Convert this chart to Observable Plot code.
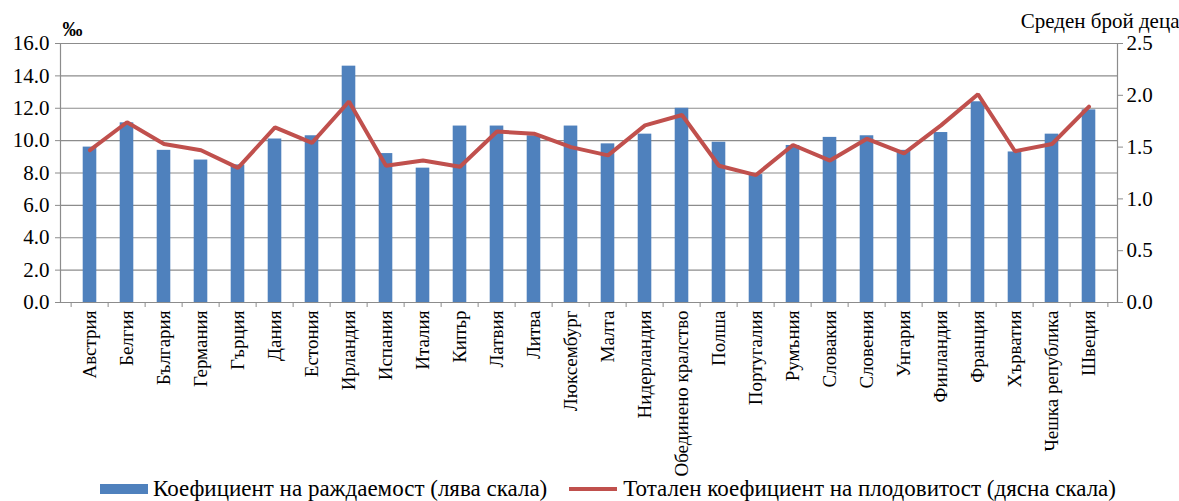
<!DOCTYPE html>
<html>
<head>
<meta charset="utf-8">
<script src="https://cdn.jsdelivr.net/npm/d3@7"></script>
<script src="https://cdn.jsdelivr.net/npm/@observablehq/plot@0.6"></script>
<style>
  body { margin: 0; background: #fff; font-family: "Liberation Serif", "Times New Roman", serif; }
  #wrap { width: 1179px; }
  #wrap svg text { font-family: "Liberation Serif", "Times New Roman", serif !important; }
  #wrap svg g[aria-label="y-axis tick label"], #wrap svg g[aria-label="y-axis tick label"] text { font-size: 21px !important; }
  #wrap svg g[aria-label="x-axis tick label"], #wrap svg g[aria-label="x-axis tick label"] text { font-size: 19px !important; }
  .legend { display: flex; align-items: center; height: 24px; padding-left: 100px; font-size: 23px; color: #000; white-space: nowrap; }
  .sw-bar { width: 48px; height: 10px; background: #4F81BD; margin-right: 5px; }
  .sw-line { width: 48px; height: 4px; background: #C0504D; margin-left: 22px; margin-right: 6px; }
</style>
</head>
<body>
<div id="wrap"></div>
<script>
const countries = ["Австрия","Белгия","България","Германия","Гърция","Дания","Естония","Ирландия","Испания","Италия","Кипър","Латвия","Литва","Люксембург","Малта","Нидерландия","Обединено кралство","Полша","Португалия","Румъния","Словакия","Словения","Унгария","Финландия","Франция","Хърватия","Чешка република","Швеция"];
const birthRate = [9.6,11.1,9.4,8.8,8.5,10.1,10.3,14.6,9.2,8.3,10.9,10.9,10.3,10.9,9.8,10.4,12.0,9.9,7.9,9.7,10.2,10.3,9.4,10.5,12.4,9.3,10.4,11.9];
const fertility = [1.47,1.74,1.53,1.47,1.30,1.69,1.54,1.94,1.32,1.37,1.31,1.65,1.63,1.50,1.42,1.71,1.81,1.32,1.23,1.52,1.37,1.58,1.44,1.71,2.01,1.46,1.53,1.89];
const leftTicks = [0,2,4,6,8,10,12,14,16];
const rightTicks = [0,0.5,1.0,1.5,2.0,2.5];
const ratio = 16 / 2.5;

const data = countries.map((c, i) => ({country: c, br: birthRate[i], tfr: fertility[i]}));

const width = 1179, marginLeft = 60, marginRight = 62;
const bw = (width - marginLeft - marginRight) / countries.length;
const grey = "#8c8c8c";

const chart = Plot.plot({
  width, height: 477,
  marginLeft, marginRight, marginTop: 43, marginBottom: 175,
  style: {fontFamily: "'Liberation Serif', 'Times New Roman', serif", fontSize: "20px", color: "#000", background: "#fff"},
  x: {domain: countries, padding: 0},
  y: {domain: [0, 16]},
  marks: [
    Plot.ruleY(leftTicks, {stroke: grey, strokeWidth: 1.2}),
    Plot.barY(data, {x: "country", y: "br", fill: "#4F81BD", insetLeft: bw * 0.31, insetRight: bw * 0.31}),
    Plot.line(data, {x: "country", y: d => d.tfr * ratio, stroke: "#C0504D", strokeWidth: 4, strokeLinejoin: "miter"}),
    Plot.ruleY([0], {stroke: grey, strokeWidth: 1.2}),
    Plot.ruleX(countries, {x: d => d, dx: -bw / 2, y1: 0, y2: 0, insetBottom: -5, stroke: grey}),
    Plot.ruleX([countries[countries.length - 1]], {x: d => d, dx: bw / 2, y1: 0, y2: 0, insetBottom: -5, stroke: grey}),
    Plot.axisY(leftTicks, {anchor: "left", tickSize: 5, tickPadding: 6, stroke: grey, tickFormat: d => d.toFixed(1), label: null, fontSize: 21}),
    Plot.axisY(rightTicks.map(v => v * ratio), {anchor: "right", tickSize: 5, tickPadding: 4, stroke: grey, tickFormat: d => (d / ratio).toFixed(1), label: null, fontSize: 21}),
    Plot.frame({anchor: "left", stroke: grey, strokeWidth: 1.2}),
    Plot.frame({anchor: "right", stroke: grey, strokeWidth: 1.2}),
    Plot.axisX({tickSize: 0, tickRotate: -90, tickPadding: 8, label: null, fontSize: 19}),
    Plot.text(["‰"], {frameAnchor: "top-left", dx: 2, dy: -22, textAnchor: "start", fontSize: 20, fontWeight: "bold"}),
    Plot.text(["Среден брой деца"], {frameAnchor: "top-right", dx: 62, dy: -30, textAnchor: "end", fontSize: 21})
  ]
});

const wrap = document.getElementById("wrap");
wrap.appendChild(chart);
const legend = document.createElement("div");
legend.className = "legend";
legend.innerHTML = '<span class="sw-bar"></span><span>Коефициент на раждаемост (лява скала)</span><span class="sw-line"></span><span>Тотален коефициент на плодовитост (дясна скала)</span>';
wrap.appendChild(legend);
</script>
</body>
</html>
